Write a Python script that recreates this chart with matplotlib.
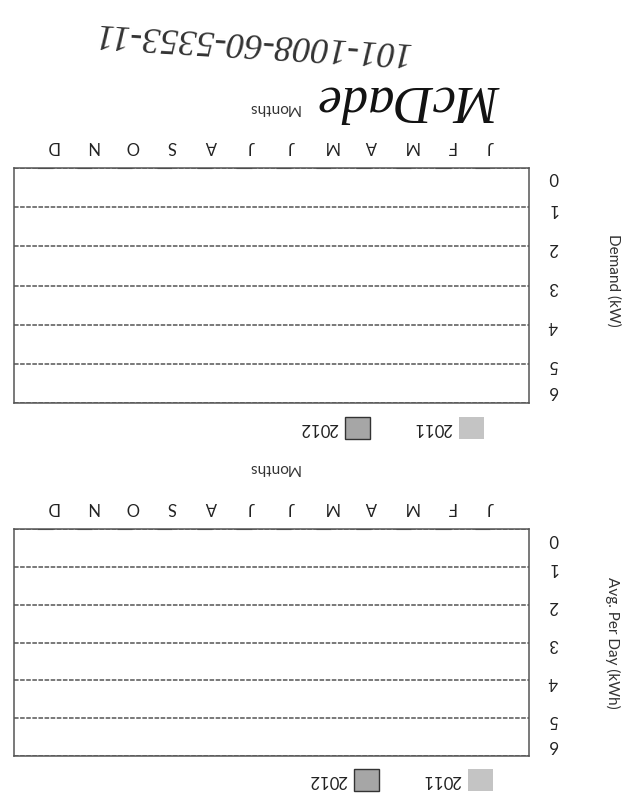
"""
Dos gráficas de barras vacías (escaneadas al revés): demanda y promedio diario.
Se dibujan girando todo 180 grados: ejes invertidos y textos rotados.
"""
import matplotlib
matplotlib.use("Agg")
import matplotlib.pyplot as plt
import matplotlib.transforms as mtransforms
from matplotlib.patches import Patch

plt.rcParams['font.family'] = ['Lato', 'DejaVu Sans']

# datos
meses = ["J", "F", "M", "A", "M", "J", "J", "A", "S", "O", "N", "D"]
anios = ["2011", "2012"]
demanda_2011 = [0] * 12
demanda_2012 = [0] * 12
promedio_2011 = [0] * 12
promedio_2012 = [0] * 12
y_ticks = [0, 1, 2, 3, 4, 5, 6]

COLOR_2011 = "#c4c4c4"
COLOR_2012 = "#a6a6a6"
LINEA = "#555555"

fig = plt.figure(figsize=(6.43, 8.01), dpi=100)
fig.patch.set_facecolor("white")


def grafica(rect, v2011, v2012, ylabel, ylab_y, months_y, legend_xy):
    ax = fig.add_axes(rect)
    x = list(range(len(meses)))
    w = 0.38
    ax.bar([i - w / 2 for i in x], v2011, w, color=COLOR_2011, label=anios[0])
    ax.bar([i + w / 2 for i in x], v2012, w, color=COLOR_2012,
           edgecolor="#333333", linewidth=0.8, label=anios[1])

    # todo va girado 180 grados
    ax.set_xlim(11.97, -0.97)
    ax.set_ylim(6, 0)
    ax.xaxis.tick_top()
    ax.yaxis.tick_right()
    ax.set_xticks(x)
    ax.set_xticklabels(meses, rotation=180, fontsize=12, color="#222222")
    ax.set_yticks(y_ticks)
    ax.set_yticklabels([str(t) for t in y_ticks], rotation=180, fontsize=12,
                       color="#222222")
    ax.tick_params(axis="x", length=0, pad=10)
    ax.tick_params(axis="y", length=0, pad=14)

    # etiquetas 0 y 6 un poco hacia dentro, como en el original
    labels = ax.get_yticklabels()
    labels[0].set_transform(labels[0].get_transform() +
                            mtransforms.ScaledTranslation(0, -8 / 100, fig.dpi_scale_trans))
    labels[-1].set_transform(labels[-1].get_transform() +
                             mtransforms.ScaledTranslation(0, 13 / 100, fig.dpi_scale_trans))

    ax.grid(axis="y", color=LINEA, linestyle=(0, (3, 1)), linewidth=1.1)
    ax.set_axisbelow(True)
    for s in ax.spines.values():
        s.set_color(LINEA)
        s.set_linestyle((0, (3, 1)))
        s.set_linewidth(1.1)

    ax.set_ylabel(ylabel, rotation=270, fontsize=11, color="#333333")
    ax.yaxis.set_label_position("right")
    ax.yaxis.set_label_coords(1.177, ylab_y)
    ax.set_xlabel("Months", rotation=180, fontsize=11, color="#333333")
    ax.xaxis.set_label_position("top")
    ax.xaxis.set_label_coords(0.505, months_y)

    h = [Patch(facecolor=COLOR_2012, edgecolor="#333333", linewidth=1.0),
         Patch(facecolor=COLOR_2011, edgecolor="none")]
    leg = fig.legend(h, [anios[1], anios[0]], ncol=2, markerfirst=False,
                     loc="center", bbox_to_anchor=legend_xy, frameon=False,
                     fontsize=12, handlelength=1.5, handleheight=1.6,
                     handletextpad=0.4, columnspacing=2.6)
    for t in leg.get_texts():
        t.set_rotation(180)
        t.set_color("#222222")
    return ax


grafica([14 / 643, 1 - 403 / 801, 515 / 643, 235 / 801],
        demanda_2011, demanda_2012, "Demand (kW)", 0.52, 1.238,
        (392 / 643, 1 - 428 / 801))
grafica([14 / 643, 1 - 756 / 801, 515 / 643, 227 / 801],
        promedio_2011, promedio_2012, "Avg. Per Day (kWh)", 0.5, 1.251,
        (401 / 643, 1 - 780 / 801))

# anotaciones a mano (también al revés)
fig.text(252 / 643, 1 - 42 / 801, "101-1008-60-5353-11", rotation=176.5,
         ha="center", va="center", fontsize=26, family="Liberation Serif",
         style="italic", color="#333333")
fig.text(410 / 643, 1 - 100 / 801, "McDade", rotation=180, ha="center",
         va="center", fontsize=38, family="Liberation Serif", style="italic",
         color="#111111")

fig.savefig("out.png", dpi=100, facecolor="white")
